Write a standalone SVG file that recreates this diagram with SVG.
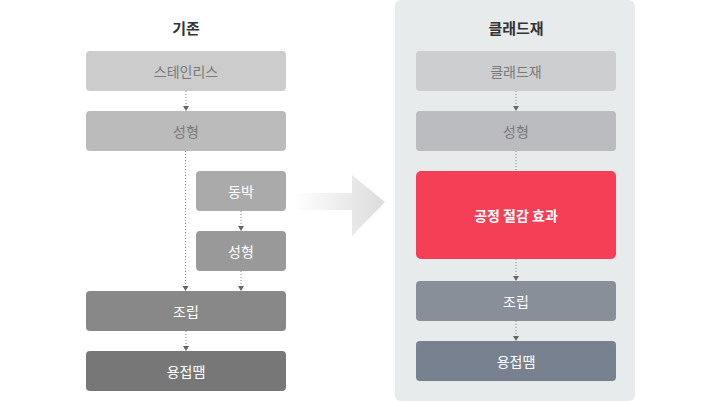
<svg xmlns="http://www.w3.org/2000/svg" width="720" height="401" viewBox="0 0 720 401">
<style>
text{font-family:"Noto Sans CJK KR","Noto Sans",sans-serif;font-size:14px;text-anchor:middle;dominant-baseline:central}
.title{font-size:15px;font-weight:bold;fill:#333}
.lt{fill:#7a7a7a}
.wt{fill:#fff}
.c{stroke:#888;stroke-width:1;stroke-dasharray:1 2;fill:none}
.h{fill:#666}
</style>
<defs>
<linearGradient id="ag" x1="0" x2="1" y1="0" y2="0">
<stop offset="0" stop-color="#fff"/>
<stop offset="1" stop-color="#dcdcdc"/>
</linearGradient>
</defs>
<rect x="395" y="0" width="240" height="401" rx="6" fill="#e7ebec"/>
<text class="title" x="186" y="27">기존</text>
<text class="title" x="516" y="27">클래드재</text>
<g id="arrow"><path d="M292,193 H352 V175 L385,202 L352,236 V210 H292 Z" fill="url(#ag)"/></g>
<g id="connectors">
<path class="c" d="M186,91 V107"/><path class="h" d="M183,106 H189 L186,111 Z"/>
<path class="c" d="M185.5,151 V287"/><path class="h" d="M182.5,286 H188.5 L185.5,291 Z"/>
<path class="c" d="M241,211 V227"/><path class="h" d="M238,226 H244 L241,231 Z"/>
<path class="c" d="M241,271 V287"/><path class="h" d="M238,286 H244 L241,291 Z"/>
<path class="c" d="M186,331 V347"/><path class="h" d="M183,346 H189 L186,351 Z"/>
<path class="c" d="M516,91 V107"/><path class="h" d="M513,106 H519 L516,111 Z"/>
<path class="c" d="M516,151 V171"/>
<path class="c" d="M516,259 V277"/><path class="h" d="M513,276 H519 L516,281 Z"/>
<path class="c" d="M516,321 V337"/><path class="h" d="M513,336 H519 L516,341 Z"/>
</g>
<g id="n-stainless"><rect x="86" y="51" width="200" height="40" rx="4" fill="#cccccc"/><text class="lt" x="186" y="71">스테인리스</text></g>
<g id="n-forming1"><rect x="86" y="111" width="200" height="40" rx="4" fill="#bbbbbb"/><text class="lt" x="186" y="131">성형</text></g>
<g id="n-copper"><rect x="196" y="171" width="90" height="40" rx="4" fill="#aaaaaa"/><text class="wt" x="241" y="191">동박</text></g>
<g id="n-forming2"><rect x="196" y="231" width="90" height="40" rx="4" fill="#999999"/><text class="wt" x="241" y="251">성형</text></g>
<g id="n-assembly1"><rect x="86" y="291" width="200" height="40" rx="4" fill="#888888"/><text class="wt" x="186" y="311">조립</text></g>
<g id="n-weld1"><rect x="86" y="351" width="200" height="40" rx="4" fill="#777777"/><text class="wt" x="186" y="371">용접땜</text></g>
<g id="n-clad"><rect x="416" y="51" width="200" height="40" rx="4" fill="#cdced0"/><text class="lt" x="516" y="71">클래드재</text></g>
<g id="n-forming3"><rect x="416" y="111" width="200" height="40" rx="4" fill="#bbbcbf"/><text class="lt" x="516" y="131">성형</text></g>
<g id="n-saving"><rect x="416" y="171" width="200" height="88" rx="5" fill="#f43f56"/><text class="wt" x="516" y="215" font-weight="bold">공정 절감 효과</text></g>
<g id="n-assembly2"><rect x="416" y="281" width="200" height="40" rx="4" fill="#898f98"/><text class="wt" x="516" y="301">조립</text></g>
<g id="n-weld2"><rect x="416" y="341" width="200" height="40" rx="4" fill="#778190"/><text class="wt" x="516" y="361">용접땜</text></g>
</svg>
